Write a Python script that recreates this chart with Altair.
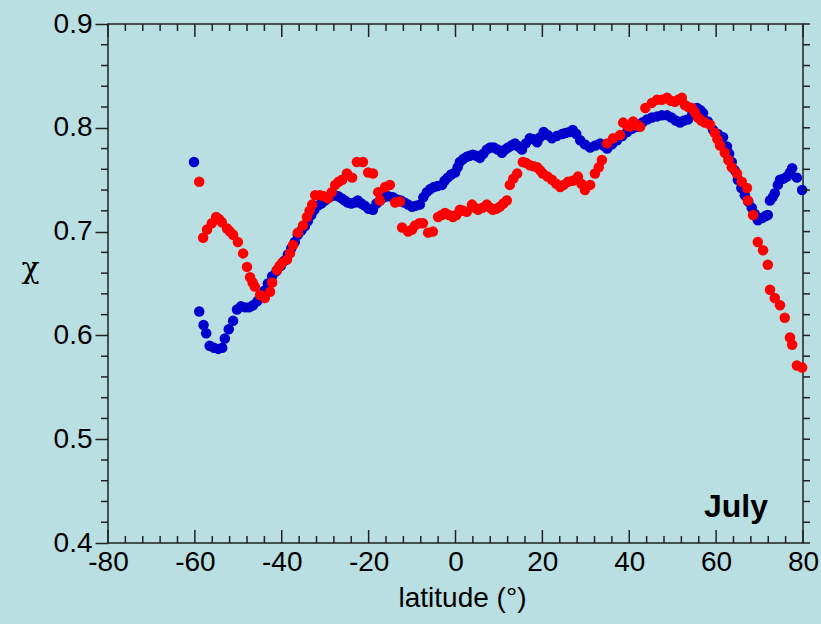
import altair as alt
import pandas as pd

# ---- data ----
blue_lat = [-60.2, -59.0, -58.0, -57.4, -56.6, -55.6, -54.6, -53.7, -53.1, -52.2, -51.2, -50.3, -49.4, -48.4,
            -47.5, -46.6, -45.6, -44.8, -44.0, -43.2, -42.2, -41.2, -40.2, -39.4, -38.6, -37.8, -37.0, -36.3,
            -35.5, -34.7, -34.0, -33.2, -32.5, -31.7, -30.9, -30.1, -29.4, -28.6, -27.8, -27.0, -26.2, -25.5,
            -24.8, -24.0, -23.2, -22.5, -21.7, -20.9, -20.0, -19.0, -18.2, -17.4, -16.5, -15.5, -14.4, -13.5,
            -12.6, -11.8, -10.9, -10.0, -9.1, -8.2, -7.4, -6.6, -5.8, -5.0, -4.1, -3.1, -2.5, -1.8, -1.0, -0.1,
            0.5, 1.0, 1.8, 2.6, 3.3, 4.0, 4.8, 5.6, 6.4, 7.2, 8.0, 8.8, 9.7, 10.7, 11.4, 12.1, 12.9, 13.7, 14.5,
            15.3, 16.2, 17.1, 18.0, 18.8, 19.5, 20.3, 21.2, 22.2, 23.3, 24.5, 25.3, 26.2, 27.0, 27.8, 28.7, 29.8,
            31.0, 32.2, 33.3, 34.1, 34.9, 36.0, 37.2, 38.4, 39.5, 40.6, 41.8, 43.0, 44.1, 45.2, 46.4, 47.5, 48.7,
            49.7, 50.7, 51.7, 52.6, 53.5, 54.5, 55.6, 56.4, 57.0, 58.1, 59.3, 60.4, 61.6, 62.5, 63.0, 63.6, 64.3,
            65.0, 65.8, 66.6, 67.4, 68.2, 68.9, 69.6, 70.6, 71.4, 71.9, 72.4, 73.0, 73.5, 74.2, 74.7, 75.5, 76.3,
            77.0, 77.5, 78.6, 79.8]
blue_chi = [0.767, 0.623, 0.610, 0.602, 0.590, 0.588, 0.587, 0.588, 0.597, 0.606, 0.614, 0.625, 0.628, 0.627,
            0.627, 0.629, 0.633, 0.638, 0.643, 0.650, 0.657, 0.662, 0.667, 0.672, 0.678, 0.684, 0.690, 0.697,
            0.701, 0.705, 0.710, 0.716, 0.721, 0.725, 0.727, 0.730, 0.732, 0.734, 0.735, 0.734, 0.732, 0.730,
            0.728, 0.727, 0.728, 0.730, 0.727, 0.725, 0.722, 0.721, 0.727, 0.730, 0.733, 0.734, 0.733, 0.731,
            0.730, 0.728, 0.726, 0.724, 0.725, 0.726, 0.733, 0.738, 0.741, 0.743, 0.744, 0.745, 0.749, 0.752,
            0.755, 0.757, 0.762, 0.767, 0.770, 0.772, 0.773, 0.774, 0.773, 0.771, 0.775, 0.779, 0.781, 0.781,
            0.779, 0.776, 0.779, 0.781, 0.783, 0.785, 0.782, 0.779, 0.785, 0.790, 0.789, 0.786, 0.791, 0.796,
            0.793, 0.790, 0.792, 0.794, 0.795, 0.796, 0.798, 0.794, 0.788, 0.784, 0.781, 0.783, 0.785, 0.783,
            0.780, 0.784, 0.788, 0.792, 0.796, 0.799, 0.801, 0.805, 0.808, 0.810, 0.811, 0.812, 0.812, 0.810,
            0.807, 0.805, 0.807, 0.808, 0.813, 0.819, 0.817, 0.814, 0.806, 0.798, 0.794, 0.791, 0.782, 0.775,
            0.767, 0.759, 0.750, 0.742, 0.735, 0.729, 0.723, 0.717, 0.711, 0.713, 0.715, 0.716, 0.730, 0.733,
            0.737, 0.745, 0.750, 0.751, 0.753, 0.757, 0.761, 0.752, 0.740]

red_lat = [-59.0, -58.1, -57.2, -56.1, -55.1, -54.4, -53.8, -52.6, -51.9, -51.2, -50.1, -48.9, -48.0, -47.3,
           -46.7, -46.2, -45.0, -43.9, -42.7, -42.2, -41.1, -40.5, -39.9, -38.8, -38.1, -37.4, -36.3, -35.1,
           -34.2, -33.6, -33.0, -32.3, -31.2, -30.3, -29.4, -28.5, -27.7, -26.9, -26.1, -25.0, -23.8, -22.7,
           -21.3, -20.1, -19.0, -17.8, -17.4, -16.2, -15.1, -13.9, -12.8, -12.3, -10.9, -10.0, -9.3, -8.3,
           -7.5, -6.3, -5.2, -4.0, -3.2, -2.4, -1.5, -0.6, 0.2, 1.0, 1.8, 2.6, 3.8, 4.5, 5.2, 6.2, 7.2, 8.0,
           8.6, 9.4, 10.2, 11.0, 11.8, 12.5, 13.3, 14.2, 15.5, 16.3, 17.1, 18.0, 18.8, 19.5, 20.1, 21.2, 22.2,
           23.2, 24.1, 24.9, 25.9, 27.0, 28.2, 29.0, 29.8, 31.0, 32.1, 33.0, 33.7, 34.9, 36.3, 37.9, 38.6,
           39.5, 40.2, 40.9, 41.7, 42.5, 43.7, 45.2, 46.4, 47.5, 48.7, 49.6, 50.5, 51.3, 52.1, 52.8, 53.6,
           54.4, 55.1, 55.8, 56.6, 57.4, 58.6, 59.7, 60.3, 60.9, 62.0, 62.8, 63.6, 64.8, 65.9, 67.1, 67.3,
           68.5, 69.6, 70.8, 71.9, 72.4, 73.5, 74.7, 75.8, 77.0, 77.5, 78.6, 79.8]
red_chi = [0.748, 0.694, 0.702, 0.708, 0.714, 0.712, 0.709, 0.703, 0.700, 0.697, 0.690, 0.679, 0.666, 0.656,
           0.651, 0.647, 0.639, 0.636, 0.642, 0.651, 0.663, 0.667, 0.670, 0.673, 0.679, 0.687, 0.699, 0.706,
           0.714, 0.720, 0.726, 0.735, 0.735, 0.734, 0.732, 0.738, 0.745, 0.748, 0.750, 0.756, 0.752, 0.767,
           0.767, 0.757, 0.756, 0.738, 0.730, 0.743, 0.745, 0.728, 0.729, 0.704, 0.700, 0.702, 0.706, 0.708,
           0.708, 0.699, 0.700, 0.714, 0.716, 0.718, 0.716, 0.714, 0.716, 0.721, 0.720, 0.719, 0.726, 0.723,
           0.721, 0.723, 0.726, 0.723, 0.721, 0.722, 0.724, 0.727, 0.730, 0.745, 0.751, 0.756, 0.767, 0.766,
           0.764, 0.763, 0.762, 0.759, 0.756, 0.753, 0.750, 0.746, 0.743, 0.745, 0.748, 0.749, 0.753, 0.746,
           0.740, 0.745, 0.756, 0.762, 0.769, 0.785, 0.790, 0.793, 0.805, 0.802, 0.801, 0.806, 0.803, 0.801,
           0.819, 0.824, 0.827, 0.827, 0.829, 0.826, 0.825, 0.827, 0.829, 0.822, 0.820, 0.819, 0.815, 0.810,
           0.807, 0.805, 0.803, 0.795, 0.789, 0.783, 0.776, 0.769, 0.762, 0.756, 0.748, 0.742, 0.730, 0.716,
           0.690, 0.682, 0.668, 0.644, 0.636, 0.629, 0.617, 0.598, 0.591, 0.571, 0.569]

x_major = [-80, -60, -40, -20, 0, 20, 40, 60, 80]
x_minor = [v for v in range(-80, 81, 4) if v % 20 != 0]
y_major = [0.4, 0.5, 0.6, 0.7, 0.8, 0.9]
y_minor = [round(0.4 + 0.02 * i, 2) for i in range(26) if i % 5 != 0]

W, H = 695, 519
FONT = "Liberation Sans"
AX = "#222222"
BG = "#b9dfe2"

# page background = chart background; drop the right/bottom page margin so the
# 80 label fits without the chart being shrunk
try:
    import altair.utils.html as _ah

    class _BgTemplate:
        def __init__(self, t):
            self.t = t

        def render(self, *a, **k):
            html = self.t.render(*a, **k)
            style = ("<style>html,body{background:%s;overflow:hidden;}"
                     "body{margin:8px 0 0 8px;}</style>" % BG)
            if "<head>" in html:
                return html.replace("<head>", "<head>" + style, 1)
            return style + html

    if "standard" in _ah.TEMPLATES and not isinstance(_ah.TEMPLATES["standard"], _BgTemplate):
        _ah.TEMPLATES["standard"] = _BgTemplate(_ah.TEMPLATES["standard"])
except Exception:
    pass

blue_df = pd.DataFrame({"lat": blue_lat, "chi": blue_chi})
red_df = pd.DataFrame({"lat": red_lat, "chi": red_chi})

xs = alt.Scale(domain=[-80, 80], nice=False, zero=False)
ys = alt.Scale(domain=[0.4, 0.9], nice=False, zero=False)

x_axis = alt.Axis(values=x_major, ticks=False, domain=False, grid=False, labelFontSize=28,
                  labelFont=FONT, labelColor="black", labelPadding=5, labelFlush=False,
                  labelExpr="toString(datum.value)", title="latitude (°)",
                  titleFont=FONT, titleFontSize=28, titleFontWeight="normal", titleColor="black",
                  titlePadding=8, titleX=354)
y_axis = alt.Axis(values=y_major, format=".1f", tickSize=13, tickColor=AX, tickWidth=1.5,
                  domain=False, grid=False, labelFontSize=28, labelFont=FONT, labelColor="black",
                  labelPadding=3, labelFlush=False, title="χ", titleFont="DejaVu Serif",
                  titleFontSize=30, titleFontWeight="normal", titleColor="black", titleAngle=0,
                  titleX=-78, titleY=244, titleAlign="center", titleBaseline="middle")

blue = alt.Chart(blue_df).mark_circle(size=110, opacity=1, color="#0000cc").encode(
    x=alt.X("lat:Q", scale=xs, axis=x_axis),
    y=alt.Y("chi:Q", scale=ys, axis=y_axis),
)
red = alt.Chart(red_df).mark_circle(size=110, opacity=1, color="#ff0000").encode(
    x=alt.X("lat:Q", scale=xs),
    y=alt.Y("chi:Q", scale=ys),
)

xmin_df = pd.DataFrame({"v": x_minor})
xmaj_df = pd.DataFrame({"v": x_major})
ymin_df = pd.DataFrame({"v": y_minor})
ymaj_df = pd.DataFrame({"v": y_major})


def rule(df):
    return alt.Chart(df).mark_rule(color=AX, strokeWidth=1.5)


ticks = [
    # bottom inward
    rule(xmin_df).encode(x=alt.X("v:Q", scale=xs), y=alt.value(H), y2=alt.value(H - 7)),
    rule(xmaj_df).encode(x=alt.X("v:Q", scale=xs), y=alt.value(H), y2=alt.value(H - 13)),
    # top inward
    rule(xmin_df).encode(x=alt.X("v:Q", scale=xs), y=alt.value(0), y2=alt.value(7)),
    rule(xmaj_df).encode(x=alt.X("v:Q", scale=xs), y=alt.value(0), y2=alt.value(13)),
    # left minor outward
    rule(ymin_df).encode(y=alt.Y("v:Q", scale=ys), x=alt.value(-7), x2=alt.value(0)),
    # right outward
    rule(ymin_df).encode(y=alt.Y("v:Q", scale=ys), x=alt.value(W), x2=alt.value(W + 7)),
    rule(ymaj_df).encode(y=alt.Y("v:Q", scale=ys), x=alt.value(W), x2=alt.value(W + 7)),
]

label = alt.Chart(pd.DataFrame({"t": ["July"]})).mark_text(
    font=FONT, fontSize=32, fontWeight="bold", align="right", baseline="alphabetic", color="black"
).encode(text="t:N", x=alt.value(660), y=alt.value(493))

chart = alt.layer(blue, red, *ticks, label).properties(
    width=W, height=H,
    autosize=alt.AutoSizeParams(type="none"),
    padding={"left": 100, "top": 16, "right": 16, "bottom": 76},
    background=BG,
).configure_view(stroke=AX, strokeWidth=1.5, fill=BG)

chart.save("out.html", embed_options={"renderer": "svg", "actions": False})
